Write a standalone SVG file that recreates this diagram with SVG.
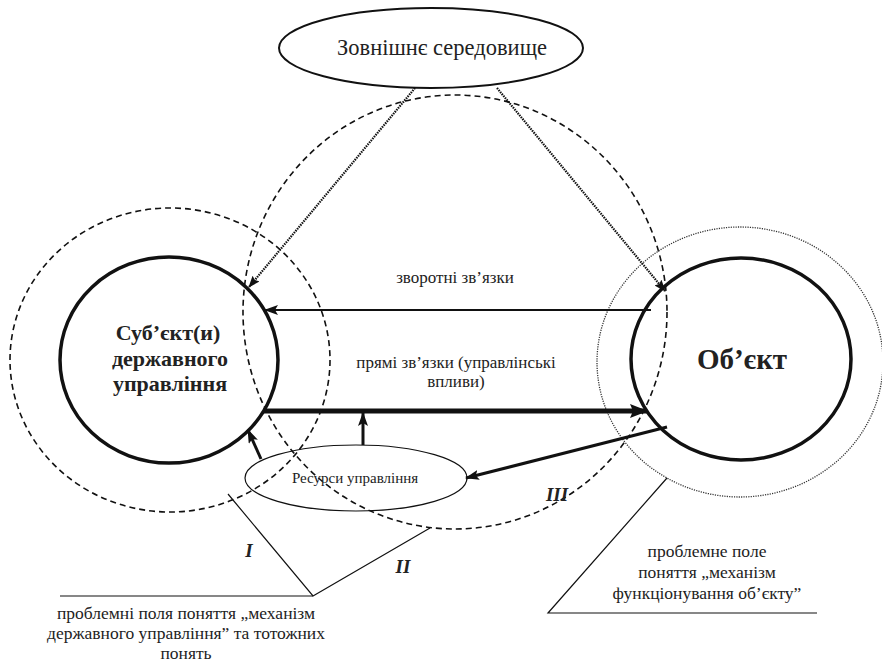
<svg xmlns="http://www.w3.org/2000/svg" width="882" height="668" viewBox="0 0 882 668">
<defs>
<marker id="ah" markerUnits="userSpaceOnUse" markerWidth="14" markerHeight="10" refX="13" refY="5" orient="auto"><path d="M0,0 L14,5 L0,10 L3,5 Z" fill="#111"/></marker>
<marker id="ahBig" markerUnits="userSpaceOnUse" markerWidth="18" markerHeight="14" refX="17" refY="7" orient="auto"><path d="M0,0 L18,7 L0,14 L3,7 Z" fill="#111"/></marker>
<marker id="ahSm" markerUnits="userSpaceOnUse" markerWidth="12" markerHeight="9" refX="11" refY="4.5" orient="auto"><path d="M0,0 L12,4.5 L0,9 L2,4.5 Z" fill="#111"/></marker>
</defs>
<style>
text{font-family:'Liberation Serif','Times New Roman',serif;fill:#222;text-anchor:middle}
.node{fill:none;stroke:#111;stroke-width:3.5}
.dash{fill:none;stroke:#111;stroke-width:1.6;stroke-dasharray:6 4}
.dot{fill:none;stroke:#333;stroke-width:1.3;stroke-dasharray:1.2 1.2}
.thin{fill:none;stroke:#111;stroke-width:1.2}
.con{fill:none;stroke:#111}
.lbl{font-size:17px}
.big{font-size:17.5px}
.rom{font-size:19px;font-weight:bold;font-style:italic}
</style>
<g id="fields">
<ellipse id="field-I" class="dash" cx="170" cy="360" rx="160" ry="152"/>
<ellipse id="field-II" class="dash" cx="455" cy="312" rx="212" ry="217"/>
<ellipse id="field-III" class="dot" cx="740" cy="362" rx="143" ry="135"/>
</g>
<g id="env">
<ellipse cx="431" cy="48" rx="152" ry="40" fill="#fff" stroke="#111" stroke-width="2"/>
<text x="442" y="55" font-size="22.5">Зовнішнє середовище</text>
</g>
<g id="subject">
<ellipse class="node" cx="169" cy="360" rx="109" ry="103"/>
<text x="168" y="340" font-size="22" font-weight="bold">Суб’єкт(и)</text>
<text x="170" y="366" font-size="22" font-weight="bold">державного</text>
<text x="170" y="391" font-size="22" font-weight="bold">управління</text>
</g>
<g id="object">
<ellipse class="node" cx="741" cy="359" rx="110" ry="101"/>
<text x="742" y="369" font-size="29" font-weight="bold">Об’єкт</text>
</g>
<g id="resources">
<ellipse cx="356" cy="478" rx="111" ry="33" fill="none" stroke="#111" stroke-width="1.2"/>
<text x="355" y="483" font-size="15">Ресурси управління</text>
</g>
<g id="connectors">
<line class="con" x1="415" y1="88" x2="249" y2="287" stroke-width="2.2" stroke-dasharray="1.5 1" marker-end="url(#ahSm)"/>
<line class="con" x1="497" y1="88" x2="665" y2="291" stroke-width="2.2" stroke-dasharray="1.5 1" marker-end="url(#ahSm)"/>
<line class="con" x1="651" y1="310" x2="265" y2="310" stroke-width="2.2" marker-end="url(#ah)"/>
<line class="con" x1="263" y1="411" x2="647" y2="411" stroke-width="5" marker-end="url(#ahBig)"/>
<line class="con" x1="261" y1="459" x2="248" y2="430" stroke-width="3" marker-end="url(#ah)"/>
<line class="con" x1="363" y1="445" x2="363" y2="413" stroke-width="3" marker-end="url(#ah)"/>
<line class="con" x1="667" y1="427" x2="466" y2="478" stroke-width="3" marker-end="url(#ah)"/>
</g>
<g id="labels">
<text class="lbl" x="455" y="283">зворотні зв’язки</text>
<text class="lbl" x="456" y="368">прямі зв’язки (управлінські</text>
<text class="lbl" x="456" y="387">впливи)</text>
<polyline class="thin" points="228,494 313,596 430,528"/>
<line class="thin" x1="60" y1="596" x2="313" y2="596"/>
<text class="rom" x="249" y="557">I</text>
<text class="rom" x="403" y="573">II</text>
<text class="big" x="186" y="619">проблемні поля поняття „механізм</text>
<text class="big" x="186" y="639">державного управління” та тотожних</text>
<text class="big" x="186" y="659">понять</text>
<polyline class="thin" points="667,478 548,613 817,613"/>
<text class="rom" x="557" y="501">III</text>
<text class="big" x="707" y="557">проблемне поле</text>
<text class="big" x="707" y="578">поняття „механізм</text>
<text class="big" x="707" y="599">функціонування об’єкту”</text>
</g>
</svg>
